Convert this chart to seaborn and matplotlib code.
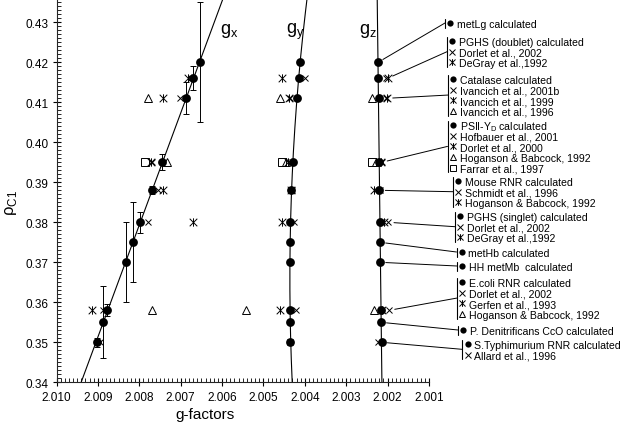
import numpy as np
import matplotlib
matplotlib.use("Agg")
import matplotlib.pyplot as plt
from matplotlib.lines import Line2D
from matplotlib.path import Path
from matplotlib.ticker import MultipleLocator, FormatStrFormatter
import seaborn as sns

# calculated spin densities (filled circles) and their g-tensor components
calc_rho = [0.420, 0.416, 0.411, 0.395, 0.388, 0.380, 0.375, 0.370, 0.358, 0.355, 0.350]
calc_gx = [2.00654, 2.00669, 2.00686, 2.00744, 2.00770, 2.00799, 2.00815, 2.00833, 2.00877, 2.00887, 2.00903]
calc_gx_err = [0.015, 0.003, 0.004, 0.002, 0.001, 0.0027, 0.010, 0.010, 0.0015, 0.009, 0.0012]
calc_gy = [2.00411, 2.00415, 2.00419, 2.00429, 2.00433, 2.00435, 2.00435, 2.00435, 2.00435, 2.00435, 2.00435]
calc_gz = [2.00223, 2.00223, 2.00222, 2.00220, 2.00220, 2.00218, 2.00218, 2.00218, 2.00216, 2.00216, 2.00214]

group_names = ["metLg calculated", "PGHS (doublet) calculated", "Catalase calculated",
               "PSII-Y$_\\mathregular{D}$ calculated", "Mouse RNR calculated",
               "PGHS (singlet) calculated", "metHb calculated", "HH metMb  calculated",
               "E.coli RNR calculated", "P. Denitrificans CcO calculated",
               "S.Typhimurium RNR calculated"]

# experimental values, each tied to a calculated system (index into calc lists)
exp_group = [1, 1, 2, 2, 2, 3, 3, 3, 3, 4, 4, 5, 5, 8, 8, 8, 10]
exp_marker = ["x", "ast", "x", "ast", "tri", "x", "ast", "tri", "sq", "x", "ast",
              "x", "ast", "x", "ast", "tri", "x"]
exp_label = ["Dorlet et al., 2002", "DeGray et al.,1992", "Ivancich et al., 2001b",
             "Ivancich et al., 1999", "Ivancich et al., 1996", "Hofbauer et al., 2001",
             "Dorlet et al., 2000", "Hoganson & Babcock, 1992", "Farrar et al., 1997",
             "Schmidt et al., 1996", "Hoganson & Babcock, 1992", "Dorlet et al., 2002",
             "DeGray et al.,1992", "Dorlet et al., 2002", "Gerfen et al., 1993",
             "Hoganson & Babcock, 1992", "Allard et al., 1996"]
exp_gx = [2.00675, 2.00682, 2.00702, 2.00743, 2.00779, 2.00770, 2.00772, 2.00734, 2.00787,
          2.00755, 2.00743, 2.00779, 2.00670, 2.00887, 2.00915, 2.00769, 2.00895]
exp_gy = [2.00400, 2.00454, 2.00436, 2.00439, 2.00461, 2.00432, 2.00441, 2.00445, 2.00455,
          2.00431, 2.00433, 2.00425, 2.00454, 2.00421, 2.00460, 2.00542, 2.00435]
exp_gz = [2.00203, 2.00200, 2.00203, 2.00201, 2.00237, 2.00214, 2.00216, 2.00228, 2.00237,
          2.00219, 2.00233, 2.00198, 2.00208, 2.00196, 2.00214, 2.00233, 2.00224]

# legend layout (figure pixels, from top)
legend_top_px = [24, 42, 80, 126, 182, 217, 253, 267, 283, 331, 345]
legend_bracket_px = [445, 447, 448, 447.5, 453, 455, 456.5, 457, 457, 458, 462.5]
ROW = 10.7
W, H = 622, 427
Y_TOP = 0.34 + 383.3 / 4000

sns.set_theme(style="ticks", rc={"axes.linewidth": 0.8})
plt.rcParams["font.family"] = ["Liberation Sans", "DejaVu Sans"]
plt.rcParams["mathtext.fontset"] = "custom"
plt.rcParams["mathtext.rm"] = "Liberation Sans"

# asterisk drawn as an x with a vertical bar
ast_path = Path([(-1, -1), (1, 1), (-1, 1), (1, -1), (0, -1.1), (0, 1.1)],
                [Path.MOVETO, Path.LINETO] * 3)
styles = {
    "x": dict(marker="x", ms=5, mew=0.7, color="black"),
    "ast": dict(marker=ast_path, ms=6, mew=0.7, color="black"),
    "tri": dict(marker="^", ms=5.5, mfc="none", mec="black", mew=0.7),
    "sq": dict(marker="s", ms=5.5, mfc="none", mec="black", mew=0.7),
}

fig = plt.figure(figsize=(W / 100, H / 100), dpi=100)
ax = fig.add_axes([56.5 / W, 1 - 383.3 / H, (429 - 56.5) / W, 383.3 / H])

# fitted lines through the calculated points
rho_line = np.linspace(0.34, Y_TOP, 200)
for gvals, deg in [(calc_gx, 1), (calc_gy, 2), (calc_gz, 1)]:
    fit = np.polyval(np.polyfit(calc_rho, gvals, deg), rho_line)
    sns.lineplot(x=fit, y=rho_line, sort=False, estimator=None, color="black",
                 lw=0.8, ax=ax, zorder=1)

# experimental points
for i, m in enumerate(exp_marker):
    r = calc_rho[exp_group[i]]
    ax.plot([exp_gx[i], exp_gy[i], exp_gz[i]], [r, r, r], ls="none", zorder=2, **styles[m])

ax.errorbar(calc_gx, calc_rho, yerr=calc_gx_err, fmt="none", ecolor="black",
            elinewidth=0.7, capsize=2.5, capthick=0.7, zorder=3)
for gvals in [calc_gx, calc_gy, calc_gz]:
    sns.scatterplot(x=gvals, y=calc_rho, color="black", s=40, linewidth=0, ax=ax, zorder=4)

ax.set_xlim(2.010, 2.001)
ax.set_ylim(0.34, Y_TOP)
ax.xaxis.set_major_locator(MultipleLocator(0.001))
ax.xaxis.set_minor_locator(MultipleLocator(0.0001))
ax.xaxis.set_major_formatter(FormatStrFormatter("%.3f"))
ax.yaxis.set_major_locator(MultipleLocator(0.01))
ax.yaxis.set_minor_locator(MultipleLocator(0.001))
ax.yaxis.set_major_formatter(FormatStrFormatter("%.2f"))
ax.tick_params(which="major", direction="inout", length=6, width=0.8, labelsize=8.5,
               color="black", labelcolor="black", pad=3)
ax.tick_params(which="minor", direction="in", length=3, width=0.6, color="black")
sns.despine(ax=ax)

ax.set_xlabel("g-factors", fontsize=11, color="black")
ax.xaxis.set_label_coords(0.4, -0.065)
ax.set_ylabel("ρ$_\\mathregular{C1}$", fontsize=12, color="black")
ax.yaxis.set_label_coords(-0.1, 0.47)

for lab, gx0 in [("x", 2.00606), ("y", 2.00445), ("z", 2.00269)]:
    ax.text(gx0, 0.4273, "g$_\\mathregular{" + lab + "}$", fontsize=13, ha="left",
            va="baseline", color="black")

# legend with brackets and leader lines
def fx(px):
    return px / W


def fy(py):
    return 1 - py / H


for gi, name in enumerate(group_names):
    members = [i for i, g in enumerate(exp_group) if g == gi]
    rows = [("calc", name)] + [(exp_marker[i], exp_label[i]) for i in members]
    top = legend_top_px[gi]
    bx = legend_bracket_px[gi]
    bottom = top + ROW * (len(rows) - 1)
    fig.add_artist(Line2D([fx(bx), fx(bx)], [fy(top - 4.5), fy(bottom + 4.5)],
                          color="black", lw=0.8))
    for k, (m, lab) in enumerate(rows):
        y = top + ROW * k
        if m == "calc":
            st = dict(marker="o", ms=4.5, color="black", mew=0)
        else:
            st = dict(styles[m])
            st["ms"] = st["ms"] * 0.8
        fig.add_artist(Line2D([fx(bx + 5)], [fy(y)], ls="none", **st))
        fig.text(fx(bx + 12), fy(y + 3.7), lab, fontsize=7.6, ha="left", va="baseline",
                 color="black")
    start_g = min([calc_gz[gi]] + [exp_gz[i] for i in members])
    ax.annotate("", xy=(bx, H - (top + bottom) / 2), xycoords="figure pixels",
                xytext=(start_g, calc_rho[gi]), textcoords="data",
                arrowprops=dict(arrowstyle="-", color="black", lw=0.7,
                                shrinkA=4, shrinkB=0))

fig.savefig("out.png", dpi=100)
